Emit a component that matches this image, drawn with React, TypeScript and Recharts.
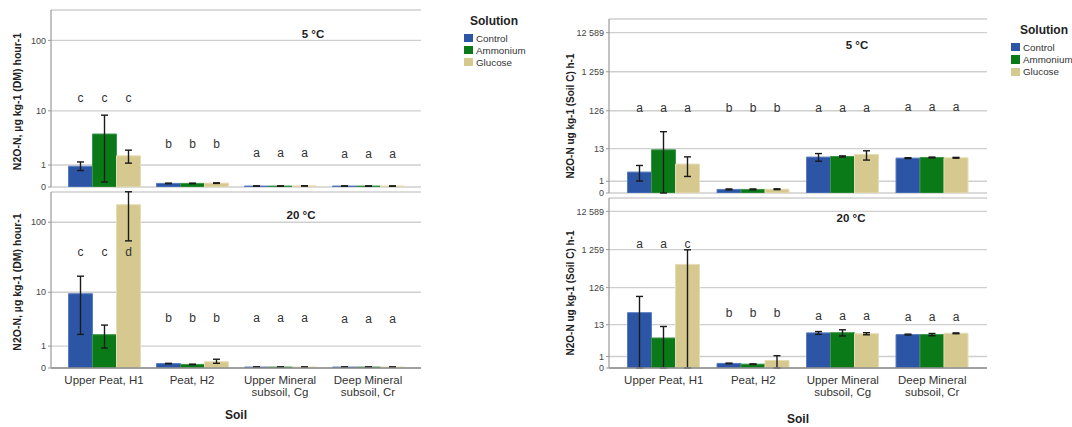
import React from "react";
import { Bar, BarChart, CartesianGrid, ErrorBar, LabelList, Legend, XAxis, YAxis } from "recharts";

const FONT = '"Liberation Sans", Arial, sans-serif';

// soils (x categories) and solutions (series)
const soils = ["Upper Peat, H1", "Peat, H2", "Upper Mineral\nsubsoil, Cg", "Deep Mineral\nsubsoil, Cr"];
const solutions = ["Control", "Ammonium", "Glucose"];
const COLORS = ["#2c55a6", "#0a7a18", "#d6c98f"];
const EDGES = ["#5a7cc2", "#3c9448", "#e6dcb4"];

// axis ticks (values and printed labels; no-break space keeps "12 589" on one line)
const dmTicks = [0, 1, 10, 100];
const dmTickLabels = ["0", "1", "10", "100"];
const scTicks = [0, 1, 12.59, 125.9, 1259, 12589];
const scTickLabels = ["0", "1", "13", "126", "1\u00a0259", "12\u00a0589"];

// N2O-N, µg kg-1 (DM) hour-1 — 5 °C
const dm5Control = [0.92, 0.12, 0.03, 0.03];
const dm5Ammonium = [4.3, 0.12, 0.03, 0.03];
const dm5Glucose = [1.67, 0.13, 0.035, 0.03];
const dm5ControlCI = [[0.68, 1.2], [0.11, 0.13], [0.025, 0.035], [0.025, 0.035]];
const dm5AmmoniumCI = [[0.17, 8.6], [0.11, 0.13], [0.025, 0.035], [0.025, 0.035]];
const dm5GlucoseCI = [[1.12, 2.19], [0.12, 0.14], [0.03, 0.04], [0.025, 0.035]];
const dm5Letters = [["c", "c", "c"], ["b", "b", "b"], ["a", "a", "a"], ["a", "a", "a"]];
const dm5LetterAt = [16.2, 3.0, 2.0, 1.9];

// N2O-N, µg kg-1 (DM) hour-1 — 20 °C
const dm20Control = [9.5, 0.15, 0.03, 0.03];
const dm20Ammonium = [1.87, 0.12, 0.03, 0.03];
const dm20Glucose = [175, 0.22, 0.03, 0.03];
const dm20ControlCI = [[1.9, 17.3], [0.14, 0.16], [0.025, 0.035], [0.025, 0.035]];
const dm20AmmoniumCI = [[0.88, 2.89], [0.11, 0.13], [0.025, 0.035], [0.025, 0.035]];
const dm20GlucoseCI = [[55, 264], [0.16, 0.32], [0.025, 0.035], [0.025, 0.035]];
const dm20Letters = [["c", "c", "d"], ["b", "b", "b"], ["a", "a", "a"], ["a", "a", "a"]];
const dm20LetterAt = [39, 4.1, 4.0, 3.8];

// N2O-N ug kg-1 (Soil C) h-1 — 5 °C
const sc5Control = [2.43, 0.235, 7.3, 6.8];
const sc5Ammonium = [11.7, 0.235, 7.6, 7.1];
const sc5Glucose = [4.5, 0.25, 8.7, 6.95];
const sc5ControlCI = [[1.02, 4.06], [0.2, 0.27], [5.5, 9.2], [6.6, 7.0]];
const sc5AmmoniumCI = [[0, 36], [0.2, 0.27], [7.3, 7.9], [6.9, 7.3]];
const sc5GlucoseCI = [[1.65, 7.4], [0.22, 0.28], [5.95, 11], [6.75, 7.15]];
const sc5Letters = [["a", "a", "a"], ["b", "b", "b"], ["a", "a", "a"], ["a", "a", "a"]];
const sc5LetterAt = [160, 160, 160, 165];

// N2O-N ug kg-1 (Soil C) h-1 — 20 °C
const sc20Control = [27.1, 0.32, 7.3, 6.5];
const sc20Ammonium = [5.1, 0.26, 7.4, 6.5];
const sc20Glucose = [514, 0.57, 6.9, 7.1];
const sc20ControlCI = [[0, 73.7], [0.3, 0.34], [6.6, 8.0], [6.3, 6.7]];
const sc20AmmoniumCI = [[0, 11.2], [0.24, 0.28], [5.9, 9.0], [6.0, 7.0]];
const sc20GlucoseCI = [[0, 1240], [0, 1.1], [6.4, 7.4], [6.9, 7.3]];
const sc20Letters = [["a", "a", "c"], ["b", "b", "b"], ["a", "a", "a"], ["a", "a", "a"]];
const sc20LetterAt = [1840, 27.5, 24, 22.5];

// the y axes are drawn on a log(x + 1) scale
const f = (v: number) => Math.log10(v + 1);

function buildRows(means: number[][], cis: number[][][], letters: string[][], letterAt: number[]) {
	return soils.map((soil, i) => {
		const row: Record<string, any> = { soil };
		solutions.forEach((s, k) => {
			const m = f(means[k][i]);
			row[s] = m;
			row[s + "Err"] = [m - f(cis[k][i][0]), f(cis[k][i][1]) - m];
			row[s + "Tag"] = letters[i][k];
			row[s + "At"] = f(letterAt[i]);
		});
		return row;
	});
}

const dm5Rows = buildRows([dm5Control, dm5Ammonium, dm5Glucose], [dm5ControlCI, dm5AmmoniumCI, dm5GlucoseCI], dm5Letters, dm5LetterAt);
const dm20Rows = buildRows([dm20Control, dm20Ammonium, dm20Glucose], [dm20ControlCI, dm20AmmoniumCI, dm20GlucoseCI], dm20Letters, dm20LetterAt);
const sc5Rows = buildRows([sc5Control, sc5Ammonium, sc5Glucose], [sc5ControlCI, sc5AmmoniumCI, sc5GlucoseCI], sc5Letters, sc5LetterAt);
const sc20Rows = buildRows([sc20Control, sc20Ammonium, sc20Glucose], [sc20ControlCI, sc20AmmoniumCI, sc20GlucoseCI], sc20Letters, sc20LetterAt);

function SoilTick(props: any) {
	const { x, y, payload } = props;
	const lines = String(payload.value).split("\n");
	return (
		<text x={x} y={y} textAnchor="middle" fontSize={11.5} fill="#333" fontFamily={FONT}>
			{lines.map((l, i) => (
				<tspan key={i} x={x} y={y + 12.3 + i * 11.7} dominantBaseline="central">
					{l}
				</tspan>
			))}
		</text>
	);
}

function TagLabel(props: any) {
	const { x, y, width, value } = props;
	return (
		<text x={x + width / 2} y={y + 1} textAnchor="middle" dominantBaseline="central" fontSize={12} fill="#333" fontFamily={FONT}>
			{value}
		</text>
	);
}

function SolutionLegend({ fontSize, rowStep, titleLeft }: { fontSize: number; rowStep: number; titleLeft: number }) {
	return (
		<div style={{ position: "relative", width: 120, height: 60, fontFamily: FONT }}>
			<div style={{ position: "absolute", left: titleLeft, width: 80, top: 0, textAlign: "center", fontWeight: "bold", fontSize: 12, lineHeight: "14px", color: "#222" }}>
				Solution
			</div>
			{solutions.map((s, i) => (
				<div key={s} style={{ position: "absolute", left: 0, top: 18 + i * rowStep, height: 12, display: "flex", alignItems: "center", whiteSpace: "nowrap" }}>
					<span style={{ display: "inline-block", width: 8.5, height: 8.5, background: COLORS[i] }} />
					<span style={{ marginLeft: 3.5, fontSize, color: "#333" }}>{s}</span>
				</div>
			))}
		</div>
	);
}

type PanelProps = {
	rows: Record<string, any>[];
	width: number;
	height: number;
	margin: { top: number; right: number; bottom: number; left: number };
	yMax: number;
	yWidth: number;
	ticks: number[];
	tickLabels: string[];
	yLabel: string;
	yLabelDx: number;
	yLabelDy: number;
	yLabelSize: number;
	pad: number;
	bottomAxis: boolean;
	soilOffset?: number;
	legend?: { left: number; top: number; fontSize: number; rowStep: number; titleLeft: number };
};

function Panel(p: PanelProps) {
	const tickVals = p.ticks.map(f);
	return (
		<BarChart width={p.width} height={p.height} data={p.rows} margin={p.margin} barGap={0} barCategoryGap={8.5}>
			<CartesianGrid xAxisId="main" vertical={false} stroke="#cfcfcf" strokeWidth={1.3} />
			<XAxis
				xAxisId="main"
				dataKey="soil"
				interval={0}
				padding={{ left: p.pad, right: p.pad }}
				height={p.bottomAxis ? 55 : 0}
				tickLine={false}
				tickSize={0}
				tickMargin={0}
				axisLine={{ stroke: "#8c8c8c", strokeWidth: 1.5 }}
				tick={p.bottomAxis ? <SoilTick /> : false}
				label={
					p.bottomAxis
						? { value: "Soil", position: "insideBottom", offset: p.soilOffset, fontSize: 12, fontWeight: "bold", fill: "#222", fontFamily: FONT }
						: undefined
				}
			/>
			<XAxis xAxisId="tags" dataKey="soil" hide padding={{ left: p.pad, right: p.pad }} />
			<YAxis
				type="number"
				domain={[0, p.yMax]}
				allowDataOverflow
				ticks={tickVals}
				interval={0}
				width={p.yWidth}
				tickSize={3}
				tickMargin={2}
				tickLine={{ stroke: "#999" }}
				axisLine={{ stroke: "#999", strokeWidth: 1.2 }}
				tick={{ fontSize: 9, fill: "#444", fontFamily: FONT }}
				tickFormatter={(v: number) => p.tickLabels[tickVals.findIndex((t) => Math.abs(t - v) < 1e-6)]}
				label={{
					content: (lp: any) => {
						const vb = lp.viewBox;
						const cx = vb.x + p.yLabelDx;
						const cy = vb.y + vb.height / 2 + p.yLabelDy;
						return (
							<text
								x={cx}
								y={cy}
								transform={`rotate(-90 ${cx} ${cy})`}
								textAnchor="middle"
								dominantBaseline="central"
								fontSize={p.yLabelSize}
								fontWeight="bold"
								fill="#222"
								fontFamily={FONT}
							>
								{p.yLabel}
							</text>
						);
					},
				}}
			/>
			{solutions.map((s, k) => (
				<Bar key={s} xAxisId="main" dataKey={s} fill={COLORS[k]} stroke={EDGES[k]} strokeWidth={1} isAnimationActive={false}>
					<ErrorBar dataKey={s + "Err"} direction="y" width={3.5} stroke="#1a1a1a" strokeWidth={1.4} isAnimationActive={false} />
				</Bar>
			))}
			{solutions.map((s) => (
				<Bar key={s + "Tag"} xAxisId="tags" dataKey={s + "At"} fill="transparent" isAnimationActive={false}>
					<LabelList dataKey={s + "Tag"} content={<TagLabel />} />
				</Bar>
			))}
			{p.legend && (
				<Legend
					layout="vertical"
					align="center"
					verticalAlign="middle"
					wrapperStyle={{ left: p.legend.left, top: p.legend.top, width: 130, height: 62 }}
					content={<SolutionLegend fontSize={p.legend.fontSize} rowStep={p.legend.rowStep} titleLeft={p.legend.titleLeft} />}
				/>
			)}
		</BarChart>
	);
}

const titleStyle: React.CSSProperties = {
	position: "absolute",
	transform: "translate(-50%, -50%)",
	fontFamily: FONT,
	fontWeight: "bold",
	fontSize: 11.5,
	color: "#222",
	whiteSpace: "nowrap",
};

const dmLabel = "N2O-N, µg kg-1 (DM) hour-1";
const scLabel = "N2O-N ug kg-1 (Soil C) h-1";

export default function App() {
	return (
		<div style={{ position: "absolute", left: 0, top: 0, width: 1072, height: 427, overflow: "hidden", background: "#fff" }}>
			<div style={{ position: "absolute", left: 0, top: 0 }}>
				<Panel
					rows={dm5Rows}
					width={540}
					height={197}
					margin={{ top: 10, right: 119, bottom: 10, left: 15 }}
					yMax={2.42}
					yWidth={36}
					ticks={dmTicks}
					tickLabels={dmTickLabels}
					yLabel={dmLabel}
					yLabelDx={2}
					yLabelDy={3}
					yLabelSize={10.5}
					pad={9}
					bottomAxis={false}
					legend={{ left: 464, top: 14, fontSize: 9.8, rowStep: 12, titleLeft: -10 }}
				/>
			</div>
			<div style={{ position: "absolute", left: 0, top: 190 }}>
				<Panel
					rows={dm20Rows}
					width={540}
					height={237}
					margin={{ top: 2, right: 119, bottom: 4, left: 15 }}
					yMax={2.42}
					yWidth={36}
					ticks={dmTicks}
					tickLabels={dmTickLabels}
					yLabel={dmLabel}
					yLabelDx={2}
					yLabelDy={2}
					yLabelSize={10.5}
					pad={9}
					bottomAxis
					soilOffset={4}
				/>
			</div>
			<div style={{ position: "absolute", left: 540, top: 0 }}>
				<Panel
					rows={sc5Rows}
					width={532}
					height={203}
					margin={{ top: 19, right: 85, bottom: 10, left: 29 }}
					yMax={4.45}
					yWidth={40}
					ticks={scTicks}
					tickLabels={scTickLabels}
					yLabel={scLabel}
					yLabelDx={1}
					yLabelDy={10}
					yLabelSize={10}
					pad={10}
					bottomAxis={false}
					legend={{ left: 471, top: 23, fontSize: 9.8, rowStep: 12.4, titleLeft: -7 }}
				/>
			</div>
			<div style={{ position: "absolute", left: 540, top: 196 }}>
				<Panel
					rows={sc20Rows}
					width={532}
					height={231}
					margin={{ top: 2, right: 85, bottom: 4, left: 29 }}
					yMax={4.45}
					yWidth={40}
					ticks={scTicks}
					tickLabels={scTickLabels}
					yLabel={scLabel}
					yLabelDx={1}
					yLabelDy={10}
					yLabelSize={10}
					pad={10}
					bottomAxis
					soilOffset={0}
				/>
			</div>
			<div style={{ ...titleStyle, left: 313, top: 34 }}>5 °C</div>
			<div style={{ ...titleStyle, left: 301, top: 215 }}>20 °C</div>
			<div style={{ ...titleStyle, left: 857, top: 45 }}>5 °C</div>
			<div style={{ ...titleStyle, left: 851, top: 218 }}>20 °C</div>
		</div>
	);
}
